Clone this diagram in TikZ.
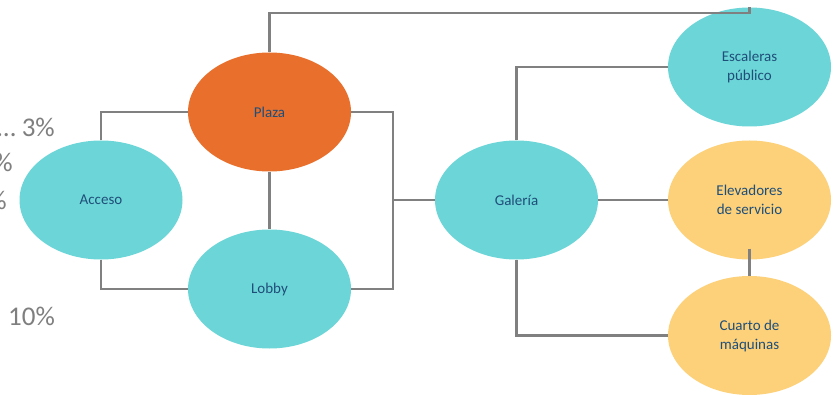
\documentclass[tikz,border=0pt]{standalone}
\usepackage{fontspec}
\setmainfont{Carlito}
\usetikzlibrary{shapes.geometric}
\definecolor{teal}{HTML}{6CD5D7}
\definecolor{orng}{HTML}{E8702C}
\definecolor{yell}{HTML}{FCD17A}
\definecolor{lbl}{HTML}{1F4E79}
\definecolor{conn}{HTML}{808080}
\definecolor{pct}{HTML}{7F7F7F}
\tikzset{
  bubble/.style={ellipse, draw=none, minimum width=163pt, minimum height=119pt, inner sep=0pt,
    align=center, text=lbl, font=\fontsize{15}{19}\selectfont},
  tealb/.style={bubble, fill=teal},
  orngb/.style={bubble, fill=orng},
  yellb/.style={bubble, fill=yell},
  link/.style={draw=conn, line width=2.6pt},
  pctlabel/.style={text=pct, font=\fontsize{27}{30}\selectfont, inner sep=0pt, anchor=east}
}
\begin{document}
\begin{tikzpicture}[x=1pt,y=-1pt]
\useasboundingbox (0,0) rectangle (834,395);
\fill[white] (0,0) rectangle (834,395);
% partially cut labels on the left
\node[pctlabel] (p1) at (55,127) {\ldots\ 3\%};
\node[pctlabel] (p2) at (13,162) {\%};
\node[pctlabel] (p3) at (7,200) {\%};
\node[pctlabel] (p4) at (55,316) {10\%};
% bubbles
\node[tealb] (acceso) at (101,200) {Acceso};
\node[orngb] (plaza) at (269.5,112) {Plaza};
\node[tealb] (lobby) at (269.5,289) {Lobby};
\node[tealb] (galeria) at (516.5,200) {Galería};
\node[tealb] (esc) at (749.5,67) {Escaleras\\público};
\node[yellb] (elev) at (749.5,200) {Elevadores\\de servicio};
\node[yellb] (cuarto) at (749.5,335.5) {Cuarto de\\máquinas};
% connectors
\coordinate (junc) at (393,200);
\coordinate (topline) at (0,13);
\draw[link] (acceso.north) |- (plaza.west);
\draw[link] (acceso.south) |- (lobby.west);
\draw[link] (plaza.south) -- (lobby.north);
\draw[link] (plaza.east) -| (junc);
\draw[link] (lobby.east) -| (junc);
\draw[link] (junc) -- (galeria.west);
\draw[link] (galeria.north) |- (esc.west);
\draw[link] (galeria.east) -- (elev.west);
\draw[link] (galeria.south) |- (cuarto.west);
\draw[link] (plaza.north) |- (topline -| esc.north) -- (esc.north);
\draw[link] ([yshift=11pt]elev.south) -- (cuarto.north);
\end{tikzpicture}
\end{document}
